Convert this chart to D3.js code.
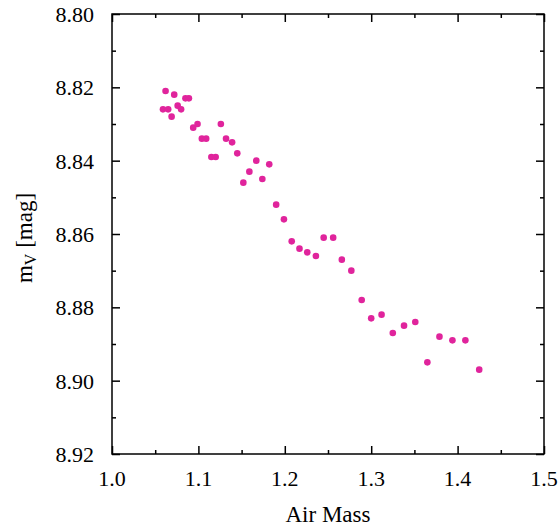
<!DOCTYPE html>
<html>
<head>
<meta charset="utf-8">
<script src="https://cdn.jsdelivr.net/npm/d3@7"></script>
<style>
  body { margin: 0; background: #fff; }
</style>
</head>
<body>
<svg id="chart" width="558" height="529"></svg>
<script>
// air mass vs. magnitude readings
const airMass = [1.062, 1.072, 1.085, 1.089, 1.059, 1.065, 1.076, 1.080, 1.069, 1.094,
                 1.099, 1.104, 1.109, 1.126, 1.132, 1.139, 1.115, 1.120, 1.145, 1.167,
                 1.182, 1.159, 1.152, 1.174, 1.190, 1.199, 1.208, 1.217, 1.226, 1.236,
                 1.245, 1.256, 1.266, 1.277, 1.289, 1.300, 1.312, 1.325, 1.338, 1.351,
                 1.379, 1.394, 1.409, 1.365, 1.425];
const magV = [8.821, 8.822, 8.823, 8.823, 8.826, 8.826, 8.825, 8.826, 8.828, 8.831,
              8.830, 8.834, 8.834, 8.830, 8.834, 8.835, 8.839, 8.839, 8.838, 8.840,
              8.841, 8.843, 8.846, 8.845, 8.852, 8.856, 8.862, 8.864, 8.865, 8.866,
              8.861, 8.861, 8.867, 8.870, 8.878, 8.883, 8.882, 8.887, 8.885, 8.884,
              8.888, 8.889, 8.889, 8.895, 8.897];
const xTicks = [1.0, 1.1, 1.2, 1.3, 1.4, 1.5];
const xMinor = [1.05, 1.15, 1.25, 1.35, 1.45];
const yTicks = [8.80, 8.82, 8.84, 8.86, 8.88, 8.90, 8.92];
const yMinor = [8.81, 8.83, 8.85, 8.87, 8.89, 8.91];

const svg = d3.select("#chart");
const font = "'Liberation Serif', 'DejaVu Serif', serif";
const marginLeft = 112, marginRight = 544, marginTop = 14, marginBottom = 454;

const x = d3.scaleLinear().domain([1.0, 1.5]).range([marginLeft, marginRight]);
const y = d3.scaleLinear().domain([8.80, 8.92]).range([marginTop, marginBottom]);

const majorLen = 8, minorLen = 4;

// inward ticks on all four sides
function ticks(g, axis, offset, vals, len) {
    g.append("g")
        .attr("transform", offset)
        .call(axis.tickValues(vals).tickSizeInner(-len).tickSizeOuter(0).tickFormat(""))
        .call(a => a.select(".domain").remove())
        .call(a => a.selectAll("line").attr("stroke", "#000").attr("stroke-width", 1.5));
}

ticks(svg, d3.axisBottom(x), `translate(0,${marginBottom})`, xTicks, majorLen);
ticks(svg, d3.axisBottom(x), `translate(0,${marginBottom})`, xMinor, minorLen);
ticks(svg, d3.axisTop(x), `translate(0,${marginTop})`, xTicks, majorLen);
ticks(svg, d3.axisTop(x), `translate(0,${marginTop})`, xMinor, minorLen);
ticks(svg, d3.axisLeft(y), `translate(${marginLeft},0)`, yTicks, majorLen);
ticks(svg, d3.axisLeft(y), `translate(${marginLeft},0)`, yMinor, minorLen);
ticks(svg, d3.axisRight(y), `translate(${marginRight},0)`, yTicks, majorLen);
ticks(svg, d3.axisRight(y), `translate(${marginRight},0)`, yMinor, minorLen);

svg.append("rect")
    .attr("x", marginLeft).attr("y", marginTop)
    .attr("width", marginRight - marginLeft).attr("height", marginBottom - marginTop)
    .attr("fill", "none").attr("stroke", "#000").attr("stroke-width", 1.5);

// tick labels
svg.selectAll(".xlab")
    .data(xTicks)
    .enter()
    .append("text")
    .attr("x", d => x(d))
    .attr("y", 486)
    .style("font-family", font)
    .style("font-size", "22px")
    .attr("text-anchor", "middle")
    .text(d => d.toFixed(1));

svg.selectAll(".ylab")
    .data(yTicks)
    .enter()
    .append("text")
    .attr("x", 94)
    .attr("y", d => y(d) + 8)
    .style("font-family", font)
    .style("font-size", "22px")
    .attr("text-anchor", "end")
    .text(d => d.toFixed(2));

svg.append("text")
    .attr("x", (marginLeft + marginRight) / 2)
    .attr("y", 522)
    .style("font-family", font)
    .style("font-size", "23px")
    .attr("text-anchor", "middle")
    .text("Air Mass");

const yl = svg.append("text")
    .attr("transform", "translate(32,238) rotate(-90)")
    .style("font-family", font)
    .style("font-size", "23px")
    .attr("text-anchor", "middle");
yl.append("tspan").text("m");
yl.append("tspan").style("font-size", "16px").attr("dy", 4).text("V");
yl.append("tspan").attr("dy", -4).text(" [mag]");

svg.selectAll(".pt")
    .data(airMass.map((a, i) => [a, magV[i]]))
    .enter()
    .append("circle")
    .attr("cx", d => x(d[0]))
    .attr("cy", d => y(d[1]))
    .attr("r", 3.3)
    .attr("fill", "#e0249c");
</script>
</body>
</html>
